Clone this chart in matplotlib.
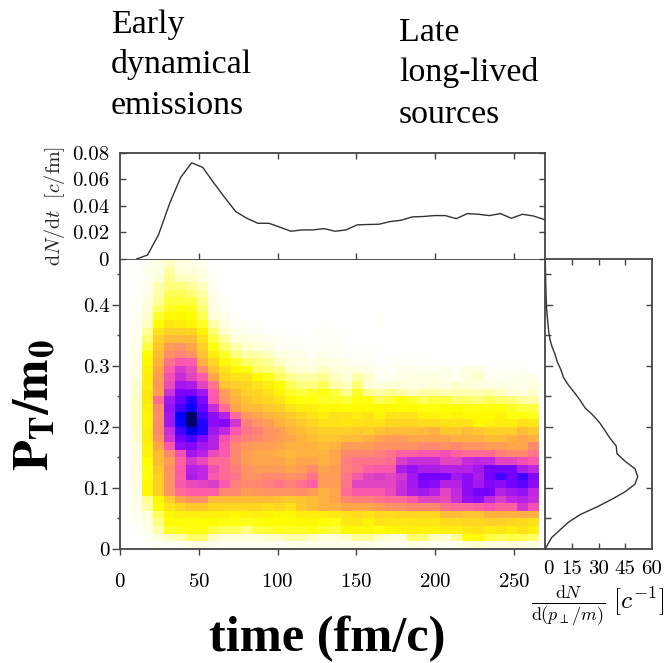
import matplotlib
matplotlib.use("Agg")
import matplotlib.pyplot as plt
from matplotlib.colors import LinearSegmentedColormap
import numpy as np

W, H = 670, 663
DARK = "#444444"
SERIF = "Liberation Serif"

# time bins (fm/c) and pt/m bins of the 2d histogram
time_edges = [i * 7 for i in range(39)]
pt_edges = [j * 0.0125 for j in range(39)]

# colour level of each cell, bottom row first
density = [
    [0, 0,0,2,3,3,5,6,4,3,3,3,3,3,3,4, 4,4, 4,4,4,5,5,4,3,3,5,5,3,3,4,8,9,8,6,7,7,6],
    [0, 0,2,6,10,12,17,17,10,8,8,8,8,9,10,12, 12,10, 8,8,10,14,13,10,8,8,17,16,10,9,13,25,26,20,18,20,19,17],
    [0, 1,4,12,22,23,24,24,20,18,18,15,20,21,23,22, 22,24, 22,20,26,26,26,24,26,27,28,27,27,28,28,29,30,28,29,28,30,28],
    [0, 2,6,15,25,25,24,25,25,24,24,23,24,25,25,25, 26,26, 25,24,29,29,27,30,29,29,29,30,29,31,31,32,32,33,33,32,31,30],
    [0, 3,8,18,26,28,28,28,28,27,26,27,28,27,26,26, 28,28, 28,29,30,31,30,32,31,32,32,32,32,36,36,35,35,38,38,38,39,38],
    [0, 4,12,25,30,32,34,34,32,32,32,32,32,31,32,30, 34,36, 38,38,40,40,40,42,44,44,46,46,46,50,52,52,54,57,54,54,66,58],
    [0, 5,14,26,33,40,44,44,36,36,36,36,36,36,35,34, 35,36, 38,40,46,48,48,50,52,52,56,62,62,60,68,78,80,70,64,70,72,68],
    [0, 6,26,33,44,52,55,55,55,46,46,42,43,44,44,44, 45,42, 38,40,52,56,56,56,60,68,74,76,72,62,70,80,84,84,72,76,78,70],
    [0, 7,26,33,44,56,60,62,64,56,48,46,46,48,50,47, 50,54, 42,42,50,62,62,62,62,68,76,82,80,72,72,80,76,82,80,84,86,80],
    [0, 7,24,33,44,55,74,70,56,52,50,44,44,46,46,44, 45,50, 42,42,50,56,62,64,62,66,76,84,84,84,76,80,74,84,88,84,88,82],
    [0, 7,24,34,44,56,72,70,58,52,48,44,42,42,42,40, 42,45, 40,42,48,50,54,56,56,74,78,74,74,72,72,72,76,84,84,84,74,70],
    [0, 8,25,36,42,54,66,60,52,52,46,42,40,40,40,38, 40,40, 38,40,48,50,50,50,52,64,68,68,68,62,62,68,70,70,62,62,58,56],
    [0, 8,27,36,46,58,76,72,60,56,46,42,40,40,38,37, 38,38, 38,40,46,46,46,48,50,54,54,56,56,58,54,52,52,52,48,46,46,50],
    [0, 8,27,40,56,80,82,76,72,56,46,43,42,42,40,38, 38,38, 36,38,42,42,42,44,44,44,44,46,46,44,46,44,44,42,42,40,40,46],
    [0, 9,28,44,66,84,88,82,72,58,50,48,46,44,42,40, 38,36, 34,35,36,36,38,40,42,42,40,40,40,40,38,38,38,36,36,38,40,38],
    [0, 9,28,46,68,88,94,90,76,70,56,50,48,44,42,38, 36,34, 33,33,33,34,33,35,36,36,36,37,38,34,34,36,35,33,33,33,36,34],
    [0, 10,27,46,76,92,100,90,80,82,66,48,44,42,38,36, 34,32, 30,30,29,30,30,30,32,32,32,31,31,30,30,30,26,27,28,28,30,29],
    [0, 10,27,45,76,93,100,88,80,72,52,43,40,38,36,34, 32,30, 28,30,30,28,30,27,30,30,30,27,27,26,27,26,26,25,27,24,24,23],
    [0, 10,28,46,78,88,92,85,68,52,40,37,36,34,33,30, 28,28, 26,26,25,26,26,26,26,25,26,24,24,25,25,24,24,24,24,22,20,20],
    [0, 10,29,52,76,85,90,82,56,44,38,35,33,32,30,26, 24,24, 22,22,21,24,24,18,21,24,22,18,20,20,17,17,16,18,17,16,13,12],
    [0, 9,29,42,67,83,83,76,55,42,36,33,32,30,27,22, 20,22, 24,20,14,22,14,12,14,12,10,12,12,11,11,11,11,12,10,8,7,9],
    [0, 9,28,43,60,76,74,62,50,35,33,32,30,28,25,18, 15,15, 18,12,10,16,8,6,8,8,6,7,8,7,9,8,7,5,6,5,4,6],
    [0, 8,28,42,58,68,62,55,40,32,30,30,26,23,18,14, 12,12, 14,10,8,12,9,3,3,5,6,6,6,5,3,7,9,3,3,4,4,4],
    [0, 7,27,40,55,65,60,45,35,30,26,24,17,16,14,9, 8,8, 10,8,6,6,5,2,2,4,4,4,3,4,2,6,6,2,2,2,2,0],
    [0, 7,26,38,50,56,55,38,32,26,22,17,15,13,10,8, 6,5, 7,5,4,3,3,1,1,2,2,2,1,1,1,1,1,1,1,1,1,0],
    [0, 6,25,36,45,47,44,35,28,22,15,12,12,10,6,5, 5,3, 5,3,2,2,2,1,0,0,1,1,1,1,1,0,0,0,0,0,0,0],
    [0, 5,20,34,42,44,40,33,24,17,12,9,8,7,3,2, 2,2, 3,3,2,1,1,1,1,0,0,0,0,0,0,0,0,0,0,0,0,0],
    [0, 4,16,33,37,37,36,30,20,13,8,6,5,4,2,2, 2,1, 2,2,1,1,1,1,1,0,0,0,0,0,0,0,0,0,0,0,0,0],
    [0, 4,13,30,33,33,32,27,16,9,4,3,2,1,1,0, 0,0, 2,1,1,0,0,1,1,0,0,0,0,0,0,0,0,0,0,0,0,0],
    [0, 3,10,25,29,28,27,22,12,6,2,2,1,0,0,0, 0,0, 1,0,0,0,0,1,1,0,0,0,0,0,0,0,0,0,0,0,0,0],
    [0, 3,9,22,26,26,25,18,8,4,1,0,0,0,0,0, 0,0, 0,0,0,0,0,1,1,0,0,0,0,0,0,0,0,0,0,0,0,0],
    [0, 2,8,17,22,24,23,16,6,3,0,0,0,0,0,0, 0,0, 0,0,0,0,0,0,0,0,0,0,0,0,0,0,0,0,0,0,0,0],
    [0, 2,7,13,20,20,20,14,5,2,0,0,0,0,0,0, 0,0, 0,0,0,0,0,0,0,0,0,0,0,0,0,0,0,0,0,0,0,0],
    [0, 1,5,12,18,18,16,12,4,1,0,0,0,0,0,0, 0,0, 0,0,0,0,0,0,0,0,0,0,0,0,0,0,0,0,0,0,0,0],
    [0, 1,4,11,15,15,13,10,3,0,0,0,0,0,0,0, 0,0, 0,0,0,0,0,0,0,0,0,0,0,0,0,0,0,0,0,0,0,0],
    [0, 0,3,8,14,10,10,6,2,0,0,0,0,0,0,0, 0,0, 0,0,0,0,0,0,0,0,0,0,0,0,0,0,0,0,0,0,0,0],
    [0, 0,4,6,12,8,8,5,1,0,0,0,0,0,0,0, 0,0, 0,0,0,0,0,0,0,0,0,0,0,0,0,0,0,0,0,0,0,0],
    [0, 0,3,5,10,6,5,3,0,0,0,0,0,0,0,0, 0,0, 0,0,0,0,0,0,0,0,0,0,0,0,0,0,0,0,0,0,0,0],
]

# top projection
time_points = [10.5, 17.5, 24.5, 31.5, 38.5, 45.5, 52.5, 59.5, 66.5, 73.5, 80.5, 87.5, 94.5,
               101.5, 108.5, 115.5, 122.5, 129.5, 136.5, 143.5, 150.5, 157.5, 164.5, 171.5,
               178.5, 185.5, 192.5, 199.5, 206.5, 213.5, 220.5, 227.5, 234.5, 241.5, 248.5,
               255.5, 262.5, 269.5]
dn_dt = [0, .003, .0184, .0418, .0614, .0725, .069, .0574, .0463, .0357, .0307, .0269, .0269,
         .024, .0209, .0219, .0219, .0229, .0209, .0219, .0257, .026, .0262, .0282,
         .0292, .0317, .032, .0327, .0327, .0304, .0342, .0337, .0327, .0342, .0307,
         .0337, .0324, .0296]

# right projection
pt_points = [0, .00625, .01875, .03125, .04375, .05625, .06875, .08125, .09375, .10625, .11875,
             .13125, .14375, .15625, .16875, .18125, .19375, .20625, .21875, .23125, .24375,
             .25625, .26875, .28125, .29375, .30625, .31875, .33125, .34375, .35625, .36875,
             .38125, .39375, .40625, .41875, .43125, .44375, .45625, .475]
dn_dpt = [0, 1.1, 3.6, 8.3, 13, 19.6, 29, 37.4, 45, 50.6, 52.1, 50.6, 45, 40.4, 40, 36.5, 33.7,
          30.8, 27, 22.4, 19.6, 16.4, 13, 10.2, 8.8, 6.8, 5.5, 3.8, 2.6, 1.9, 1.5, 1.1, .75,
          .55, .4, .3, .2, .1, 0]

time_ticks = [0, 50, 100, 150, 200, 250]
pt_major = [0, 0.1, 0.2, 0.3, 0.4]
pt_labels = ["0", "0.1", "0.2", "0.3", "0.4"]
pt_minor = [0.05, 0.15, 0.25, 0.35, 0.45]
dndt_ticks = [0, 0.02, 0.04, 0.06, 0.08]
dndt_labels = ["0", "0.02", "0.04", "0.06", "0.08"]
dnpt_ticks = [0, 15, 30, 45, 60]

cmap = LinearSegmentedColormap.from_list("heat", [
    (0.00, "#ffffff"), (0.08, "#ffffd8"), (0.25, "#ffff00"), (0.40, "#ffa64a"),
    (0.55, "#ff5ca8"), (0.70, "#c028e0"), (0.84, "#7a00ff"), (0.93, "#0000ff"),
    (1.00, "#00006a"),
])


def axes_px(left, top, right, bottom):
    return fig.add_axes([left / W, 1 - bottom / H, (right - left) / W, (bottom - top) / H])


def style(ax):
    for s in ax.spines.values():
        s.set_color(DARK)
        s.set_linewidth(1.3)
    ax.tick_params(colors=DARK, labelcolor="black", labelsize=15, width=1, length=5)
    ax.tick_params(which="minor", colors=DARK, width=1, length=3)


plt.rcParams["font.family"] = ["cmr10", "DejaVu Sans"]
plt.rcParams["axes.formatter.use_mathtext"] = True
plt.rcParams["mathtext.fontset"] = "cm"

fig = plt.figure(figsize=(W / 100, H / 100), dpi=100)

# main histogram
ax = axes_px(120, 259, 545.3, 549)
ax.pcolormesh(time_edges, pt_edges, np.array(density), cmap=cmap, vmin=0, vmax=100)
ax.set_xlim(0, 270)
ax.set_ylim(0, 0.475)
style(ax)
ax.set_xticks(time_ticks)
ax.set_yticks(pt_major, pt_labels)
ax.set_yticks(pt_minor, minor=True)
ax.tick_params(axis="x", length=4.3, pad=13)
ax.tick_params(axis="y", length=5.7, pad=1.5)
ax.tick_params(axis="y", which="minor", length=2.4)
ax.spines["right"].set_visible(False)

# top projection
top = axes_px(120, 152.8, 545.3, 259)
top.plot(time_points, dn_dt, color="#333333", lw=1.0, clip_on=True)
top.set_xlim(0, 270)
top.set_ylim(0, 0.08)
style(top)
top.set_xticks(time_ticks[1:], [])
top.set_yticks(dndt_ticks, dndt_labels)
top.tick_params(axis="both", direction="in", top=True, right=True, length=4)
top.tick_params(axis="y", pad=8)
top.spines["bottom"].set_visible(False)
top.set_ylabel(r"$\mathrm{d}N/\mathrm{d}t\ \ [c/\mathrm{fm}]$", fontsize=14.5, labelpad=3, color="#222222")

# right projection
right = axes_px(545.3, 259, 651.7, 549)
right.plot(dn_dpt, pt_points, color="#333333", lw=1.0)
right.set_xlim(0, 60)
right.set_ylim(0, 0.475)
style(right)
right.set_xticks(dnpt_ticks[1:-1], [])
right.set_yticks(pt_major[1:], [])
right.set_yticks(pt_minor, minor=True)
right.tick_params(axis="both", direction="in", top=True, right=True, left=False, length=4.5)
right.tick_params(axis="y", which="minor", direction="in", left=True, right=False, length=4.5)
for v in dnpt_ticks:
    fig.text((545.3 + v * (651.7 - 545.3) / 60 + (3 if v == 0 else 0)) / W, 1 - 569 / H, str(v),
             fontsize=15, ha="center", va="center")
for p in pt_major[1:]:
    right.plot([0, 3.5], [p, p], color=DARK, lw=1)
fig.text(598 / W, 1 - 606 / H, r"$\frac{\mathrm{d}N}{\mathrm{d}(p_\perp/m)}\ [c^{-1}]$",
         fontsize=18.5, ha="center", va="center")

# big labels pasted on the figure
fig.text(327.5 / W, 1 - 639 / H, "time (fm/c)", family=SERIF, weight="bold", fontsize=36.3,
         ha="center", va="center")
fig.text(36 / W, 1 - 405 / H, r"$\mathbf{P_T/m_0}$", math_fontfamily="stix", fontsize=36,
         rotation=90, ha="center", va="center")

for x, y, s in [(111, 25, "Early"), (111, 65, "dynamical"), (111, 106, "emissions"),
                (399, 33, "Late"), (399, 73, "long-lived"), (399, 115, "sources")]:
    fig.text(x / W, 1 - y / H, s, family=SERIF, fontsize=24.4, ha="left", va="center")

fig.savefig("out.png", dpi=100)
